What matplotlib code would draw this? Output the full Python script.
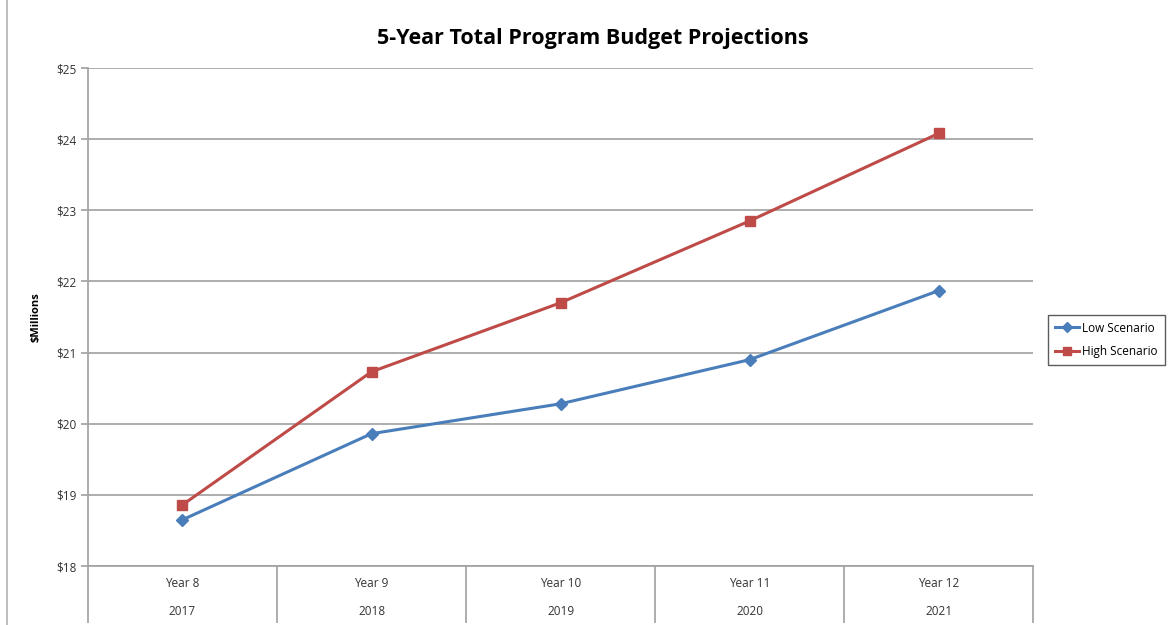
import matplotlib.pyplot as plt
import numpy as np

plt.rcParams['font.family'] = ['Open Sans', 'DejaVu Sans']

years = ['Year 8', 'Year 9', 'Year 10', 'Year 11', 'Year 12']
cal_years = ['2017', '2018', '2019', '2020', '2021']
low = [18.65, 19.86, 20.28, 20.90, 21.87]
high = [18.86, 20.73, 21.70, 22.85, 24.08]

fig = plt.figure(figsize=(11.7, 6.25), dpi=100)
ax = fig.add_axes([0.0752, 0.0944, 0.8078, 0.7968])

x = np.arange(len(years))
ax.plot(x, low, color='#4a7ebb', lw=2.2, marker='D', ms=6, label='Low Scenario')
ax.plot(x, high, color='#be4b48', lw=2.2, marker='s', ms=7, label='High Scenario')

ax.set_xlim(-0.5, len(years) - 0.5)
ax.set_ylim(18, 25)
ax.set_yticks(range(18, 26))
ax.set_yticklabels([f'${v}' for v in range(18, 26)], fontsize=8.5, color='#333333')
ax.yaxis.grid(True, color='#a0a0a0', lw=1.2)
ax.set_axisbelow(True)

# two-level category axis
ax.set_xticks(x)
ax.set_xticklabels([f'{a}\n\n{b}' for a, b in zip(years, cal_years)],
                   fontsize=8.5, color='#333333', linespacing=1.1)
ax.tick_params(axis='x', which='major', length=0, pad=8)
ax.set_xticks(np.arange(-0.5, len(years)), minor=True)
ax.tick_params(axis='x', which='minor', length=41, color='#a0a0a0', width=1.2)
ax.tick_params(axis='y', length=5, color='#a0a0a0', width=1.2)

for s in ['top', 'right']:
    ax.spines[s].set_visible(False)
for s in ['left', 'bottom']:
    ax.spines[s].set_color('#a0a0a0')
    ax.spines[s].set_linewidth(1.2)

ax.set_ylabel('$Millions', fontsize=8, fontweight='bold', labelpad=10)
fig.suptitle('5-Year Total Program Budget Projections', fontsize=15.5,
             fontweight='bold', x=0.507, y=0.955)

leg = ax.legend(loc='center left', bbox_to_anchor=(1.012, 0.454), fontsize=8.5,
                frameon=True, fancybox=False, edgecolor='#333333',
                handlelength=2.0, handletextpad=0.3, borderpad=0.6,
                labelspacing=0.9, markerscale=0.8, borderaxespad=0.3)
leg.get_frame().set_linewidth(1)

# outer chart border on the left
fig.add_artist(plt.Line2D([0.006, 0.006], [0.0, 1.0], color='#b0b0b0', lw=1.2))

fig.savefig('out.png', dpi=100)
